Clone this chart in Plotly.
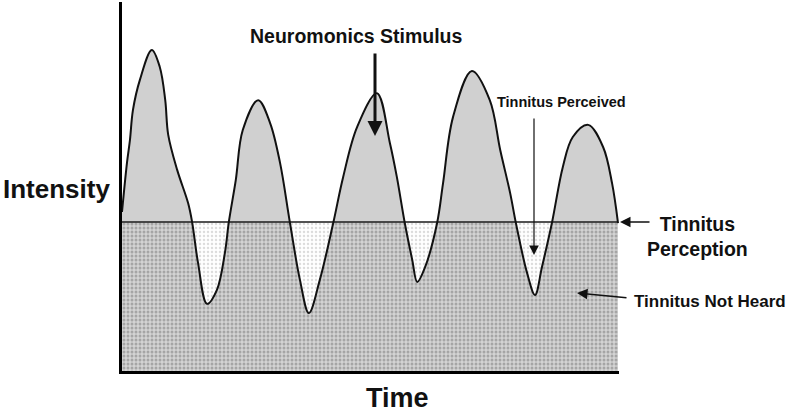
import plotly.graph_objects as go

# ---- data ----
time = [0, 1.0, 1.6, 2.2, 3.6, 6.0, 7.6, 8.7, 9.3, 11.1, 13.3, 14.1, 15.3, 17.1, 19.1,
        20.7, 21.5, 22.9, 24.3, 27.4, 29.8, 31.8, 33.8, 35.8, 37.6, 39.8, 42.5, 44.5,
        47.3, 51.3, 53.9, 55.3, 56.9, 58.4, 59.4, 61.0, 63.4, 64.6, 66.6, 70.4, 74.0,
        76.1, 78.1, 79.3, 81.5, 83.1, 84.5, 86.5, 88.7, 90.7, 93.8, 96.8, 98.6, 99.8]
intensity = [43.1, 56.4, 62.6, 70.7, 78.9, 87.0, 82.4, 73.4, 64.0, 54.5, 45.5, 40.4, 29.3,
             18.2, 22.0, 32.0, 40.4, 51.8, 65.3, 73.4, 67.2, 56.4, 40.1, 24.7, 15.7, 24.7,
             40.1, 52.6, 66.1, 75.3, 61.8, 52.6, 40.1, 30.1, 24.1, 28.2, 40.1, 50.9, 68.8,
             81.3, 73.4, 59.9, 48.2, 39.8, 26.6, 20.6, 28.2, 40.1, 55.3, 63.4, 66.7, 60.7,
             50.9, 40.1]
threshold = 40.4
y_max = 100
x_max = 100

FONT = "Liberation Sans, Arial, sans-serif"
INK = "#111111"

fig = go.Figure()

# Layer 1 (x/y): light grey area under the stimulus curve
fig.add_trace(go.Scatter(
    x=time, y=intensity, mode="lines", line=dict(width=0, shape="spline"),
    fill="tozeroy", fillcolor="#d0d0d0", xaxis="x", yaxis="y", hoverinfo="skip"))

# Layer 2 (x2/y2, clipped at threshold): trough (perceived) + stipple (not heard)
thr_x = [time[0], time[-1]]
thr_y = [threshold, threshold]
fig.add_trace(go.Scatter(
    x=thr_x, y=thr_y, mode="lines", line=dict(width=0),
    fill="tozeroy", fillcolor="#ffffff",
    fillpattern=dict(shape=".", fgcolor="#b8b8b8", bgcolor="#ffffff", size=4, solidity=0.3),
    xaxis="x2", yaxis="y2", hoverinfo="skip"))
fig.add_trace(go.Scatter(
    x=time, y=intensity, mode="lines", line=dict(width=0, shape="spline"),
    fill="tozeroy", fillcolor="#c8c8c8",
    fillpattern=dict(shape=".", fgcolor="#747474", bgcolor="#d4d4d4", size=4, solidity=0.45),
    xaxis="x2", yaxis="y2", hoverinfo="skip"))

# Layer 3 (x3/y3): outlines
fig.add_trace(go.Scatter(
    x=thr_x, y=thr_y, mode="lines", line=dict(color="#1a1a1a", width=1.5),
    xaxis="x3", yaxis="y3", hoverinfo="skip"))
fig.add_trace(go.Scatter(
    x=time, y=intensity, mode="lines", line=dict(color="#111111", width=2, shape="spline"),
    xaxis="x3", yaxis="y3", hoverinfo="skip"))

hidden = dict(visible=False, fixedrange=True)
fig.update_layout(
    width=789, height=415, autosize=False,
    margin=dict(l=122, r=170, t=2, b=44, pad=0),
    paper_bgcolor="white", plot_bgcolor="rgba(0,0,0,0)",
    showlegend=False,
    xaxis=dict(domain=[0, 1], range=[0, x_max], anchor="y", **hidden),
    yaxis=dict(domain=[0, 1], range=[0, y_max], anchor="x", **hidden),
    xaxis2=dict(domain=[0, 1], range=[0, x_max], anchor="y2", **hidden),
    yaxis2=dict(domain=[0, threshold / y_max], range=[0, threshold], anchor="x2", **hidden),
    xaxis3=dict(domain=[0, 1], range=[0, x_max], anchor="y3", showline=True,
                linecolor="#000000", linewidth=3, showticklabels=False, ticks="",
                showgrid=False, zeroline=False, fixedrange=True),
    yaxis3=dict(domain=[0, 1], range=[0, y_max], anchor="x3", showline=True,
                linecolor="#000000", linewidth=3, showticklabels=False, ticks="",
                showgrid=False, zeroline=False, fixedrange=True),
)

PL, PR, PT, PB = 122, 619, 2, 371

def px_to_paper(px, py):
    return (px - PL) / (PR - PL), (PB - py) / (PB - PT)

def text_ann(txt, px, py, size):
    x, y = px_to_paper(px, py)
    fig.add_annotation(x=x, y=y, xref="paper", yref="paper", text="<b>" + txt + "</b>",
                       showarrow=False, font=dict(family=FONT, size=size, color=INK),
                       xanchor="center", yanchor="middle", align="center")

def arrow_ann(hx, hy, tx, ty, width, head=2, size=1.0):
    x, y = px_to_paper(hx, hy)
    fig.add_annotation(x=x, y=y, xref="paper", yref="paper", text="", showarrow=True,
                       ax=tx - hx, ay=ty - hy, arrowhead=head, arrowsize=size,
                       arrowwidth=width, arrowcolor=INK)

text_ann("Intensity", 56, 189, 26)
text_ann("Time", 397, 398, 27)
text_ann("Neuromonics Stimulus", 356, 36, 19.5)
text_ann("Tinnitus Perceived", 561, 102, 14.5)
text_ann("Tinnitus<br>Perception", 697, 236, 19.5)
text_ann("Tinnitus Not Heard", 710, 301, 17)

arrow_ann(375, 136, 375, 52, 3, head=2, size=1.0)
arrow_ann(534, 255, 534, 117, 1.2, head=2, size=1.6)
arrow_ann(620, 222, 651, 222, 1.5, head=2, size=1.4)
arrow_ann(577, 293, 628, 298, 1.5, head=2, size=1.4)

fig.write_html("out.html", config={"displayModeBar": False, "staticPlot": True},
               post_script="document.body.style.margin='0';")
